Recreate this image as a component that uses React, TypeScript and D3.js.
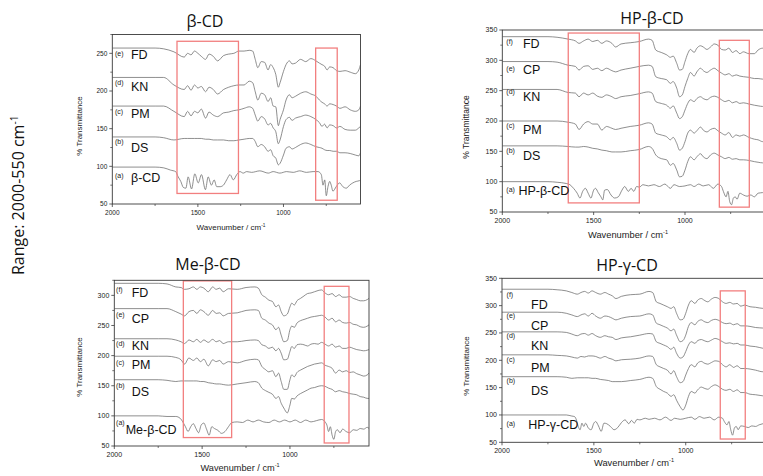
import React from "react";
import * as d3 from "d3";

// ---------------- DATA ----------------
// Panel β-CD
const WN_BCD = [2000,1750,1700,1640,1580,1560,1540,1520,1500,1480,1455,1435,1410,1385,1350,1320,1290,1260,1230,1200,1180,1165,1150,1130,1110,1090,1075,1060,1045,1030,1020,1000,985,965,950,930,900,870,840,810,790,775,760,745,730,710,690,670,640,610,580,560,550];
const BCD_FD = [257,257,256,252,245,250,248,253,250,246,242,249,246,240,247,249,250,253,253,254,253,242,231,239,238,228,235,231,222,205,211,226,235,240,236,237,242,239,243,240,237,235,233,228,232,231,227,226,227,225,223,228,235];
const BCD_KN = [218,218,218,208,202,207,201,208,204,206,199,205,202,196,202,205,207,208,208,213,211,199,188,197,195,186,191,180,179,154,162,175,188,195,191,193,197,199,196,193,188,185,183,180,183,182,180,177,179,175,173,175,180];
const BCD_PM = [180,180,180,173,166,173,167,173,171,176,164,172,168,166,171,172,174,175,177,179,177,168,160,166,163,155,157,151,146,130,135,153,162,165,161,164,166,168,166,162,158,153,156,151,155,154,151,153,149,148,148,151,153];
const BCD_DS = [139,139,138,135,137,137,137,137,137,137,136,136,135,135,135,134,134,135,136,137,137,133,126,129,126,120,122,114,111,102,104,115,124,126,123,125,129,131,129,126,125,124,122,121,121,120,120,118,118,117,115,114,118];
const BCD_PURE: [number, number][] = [[2000,99],[1750,99],[1700,98],[1660,95],[1630,93],[1615,86],[1600,80],[1585,72],[1570,71],[1557,86],[1537,70],[1518,90],[1498,78],[1479,89],[1456,69],[1440,86],[1421,75],[1405,82],[1390,73],[1370,73],[1351,75],[1332,82],[1312,89],[1293,82],[1273,89],[1254,93],[1235,91],[1215,93],[1186,92],[1138,94],[1089,91],[1060,93],[1021,91],[982,93],[943,92],[905,94],[866,92],[827,93],[798,93],[779,89],[769,75],[759,82],[750,61],[740,73],[730,80],[721,75],[711,67],[692,73],[672,78],[653,73],[633,71],[614,75],[595,78],[575,80],[556,81],[550,82]];

// Panel HP-β-CD
const WN_HPB = [2000,1750,1700,1640,1600,1580,1555,1530,1505,1480,1455,1430,1400,1380,1350,1300,1250,1200,1180,1160,1130,1100,1080,1065,1045,1030,1015,1000,985,970,950,935,915,900,880,860,840,820,800,780,760,740,720,700,680,650,620,600,575,550];
const HPB_FD = [339,339,338,335,332,328,332,335,331,333,328,332,328,322,327,329,331,335,333,317,313,309,305,307,295,284,285,298,311,318,313,320,324,322,318,322,327,325,318,317,320,313,316,311,314,311,311,317,320,320];
const HPB_CP = [298,298,297,292,290,284,290,291,285,287,283,287,283,281,284,287,290,292,290,273,270,268,262,265,254,240,243,257,270,280,274,281,287,283,280,284,287,283,279,276,278,274,276,274,273,272,270,270,269,269];
const HPB_KN = [252,252,252,247,246,240,246,243,246,241,239,243,240,237,240,242,245,248,246,232,229,226,221,225,213,204,207,218,229,235,232,237,240,237,235,239,241,239,235,232,234,230,232,229,230,228,226,225,224,224];
const HPB_PM = [200,200,200,198,195,186,195,199,195,195,185,191,188,186,188,191,193,197,195,180,177,174,169,173,163,152,155,166,180,185,180,184,190,185,182,186,188,184,180,177,181,173,177,175,177,173,170,169,166,166];
const HPB_DS = [159,159,159,158,157,157,158,157,155,154,152,151,149,149,149,151,153,158,155,144,138,136,127,130,119,108,109,119,133,141,136,141,146,141,138,144,147,144,141,138,140,137,138,136,136,135,133,132,131,131];
const HPB_PURE: [number, number][] = [[2000,100],[1750,100],[1700,99],[1650,97],[1630,95],[1610,89],[1590,81],[1575,73],[1560,84],[1545,89],[1530,81],[1515,73],[1500,86],[1490,89],[1475,82],[1460,75],[1450,70],[1440,86],[1425,87],[1405,78],[1385,73],[1365,75],[1345,86],[1330,92],[1310,84],[1295,89],[1280,84],[1265,92],[1250,91],[1230,95],[1200,93],[1170,95],[1140,92],[1110,96],[1080,89],[1060,95],[1030,92],[1000,93],[970,95],[950,92],[925,96],[900,93],[870,95],[845,89],[820,96],[800,92],[790,84],[775,75],[765,84],[755,67],[745,62],[735,73],[725,75],[715,71],[700,81],[680,78],[660,76],[640,78],[620,75],[600,81],[575,82],[550,84]];

// Panel Me-β-CD
const WN_MB = [2000,1750,1700,1650,1620,1600,1575,1550,1530,1510,1490,1465,1440,1420,1400,1380,1350,1300,1250,1200,1180,1160,1140,1120,1100,1080,1065,1050,1035,1015,1000,990,975,960,940,920,900,880,860,840,820,800,780,760,740,720,700,680,660,640,620,600,580,560,550];
const MB_FD = [320,320,319,314,313,310,311,314,310,314,312,306,314,310,312,306,311,310,313,314,312,301,297,292,290,281,284,273,266,269,281,287,284,291,295,299,303,304,306,308,309,304,301,303,298,301,297,297,298,295,293,291,291,293,295];
const MB_CP = [278,278,278,273,269,266,273,275,270,276,273,267,275,270,271,266,270,271,275,276,275,262,259,254,251,243,247,234,223,225,243,249,247,254,258,260,262,264,265,266,267,264,259,262,256,259,255,254,255,252,251,248,247,249,251];
const MB_KN = [228,228,228,226,223,220,226,223,227,222,226,222,227,223,225,220,223,223,225,226,225,218,216,212,214,208,212,204,193,194,207,215,212,218,219,218,216,219,220,219,222,219,216,219,214,216,212,212,214,212,210,209,208,209,210];
const MB_PM = [199,199,199,197,193,186,196,192,196,190,194,183,193,190,192,186,190,188,192,194,193,182,177,173,175,165,171,157,144,144,160,168,165,172,176,179,182,184,186,187,188,184,182,179,171,176,173,175,172,173,170,168,166,168,171];
const MB_DS = [160,160,159,157,158,158,158,158,158,157,157,155,154,153,153,152,151,153,155,157,155,146,142,139,136,129,132,121,113,105,118,129,128,133,137,140,143,146,147,149,150,149,146,144,140,142,140,139,137,136,135,132,131,129,129];
const MB_PURE: [number, number][] = [[2000,100],[1750,100],[1700,99],[1650,99],[1625,96],[1610,90],[1595,82],[1580,74],[1565,82],[1550,87],[1535,79],[1520,72],[1505,85],[1490,88],[1475,78],[1460,68],[1445,82],[1430,79],[1410,76],[1390,71],[1370,74],[1350,82],[1330,89],[1300,90],[1270,89],[1240,93],[1210,90],[1180,93],[1150,90],[1120,89],[1090,93],[1060,90],[1030,93],[1000,90],[970,93],[940,89],[910,93],[880,90],[850,92],[820,94],[800,90],[790,85],[780,74],[770,82],[760,68],[750,61],[740,74],[730,77],[715,72],[700,78],[680,74],[660,72],[640,77],[620,76],[600,79],[580,78],[560,81],[550,79]];

// Panel HP-γ-CD
const WN_HPG = [2000,1750,1700,1650,1620,1590,1570,1550,1530,1510,1490,1465,1440,1420,1400,1380,1350,1300,1250,1200,1180,1160,1140,1120,1100,1080,1065,1050,1030,1015,1000,985,970,950,935,915,900,880,860,840,820,800,780,760,740,720,700,680,650,620,580,550];
const HPG_FD = [330,330,329,327,324,321,324,326,323,327,324,321,324,321,318,313,317,320,321,326,324,307,304,301,298,295,298,286,274,275,286,301,309,304,310,313,310,307,312,315,313,307,304,306,303,304,299,301,298,297,295,295];
const HPG_CP = [288,288,288,286,283,280,283,285,281,286,281,277,281,280,277,274,277,280,281,285,283,268,265,262,259,254,257,246,234,236,246,262,269,265,271,274,271,269,273,275,273,269,267,268,265,267,263,263,262,260,259,258];
const HPG_KN = [252,252,252,251,248,245,248,249,246,249,245,242,245,243,242,238,241,243,246,249,248,234,231,228,225,220,224,213,204,206,216,228,234,231,236,238,236,234,237,240,238,234,231,232,230,231,228,228,226,225,222,221];
const HPG_PM = [210,210,209,208,206,204,207,206,208,208,207,204,207,204,202,199,201,202,204,208,207,192,188,185,182,175,181,170,159,161,173,185,192,188,195,198,195,193,196,199,198,192,188,192,187,190,185,185,184,182,179,179];
const HPG_DS = [170,170,170,169,167,168,168,168,168,167,167,165,164,163,161,161,161,163,165,169,167,152,147,143,140,134,137,127,115,109,118,134,143,140,146,151,149,147,152,155,152,147,145,147,143,146,141,141,138,137,135,134];
const HPG_PURE: [number, number][] = [[2000,100],[1750,100],[1700,100],[1650,100],[1620,98],[1605,97],[1595,91],[1585,79],[1575,73],[1565,85],[1555,79],[1545,85],[1530,76],[1515,73],[1500,85],[1490,88],[1475,80],[1460,70],[1445,85],[1430,84],[1410,79],[1390,73],[1370,77],[1350,86],[1330,91],[1310,84],[1295,90],[1280,85],[1265,92],[1250,91],[1220,94],[1200,92],[1170,94],[1140,91],[1110,96],[1080,90],[1060,94],[1030,92],[1000,94],[970,96],[950,92],[925,97],[900,94],[870,96],[845,91],[820,96],[800,94],[790,88],[775,82],[765,88],[755,73],[745,63],[735,76],[725,79],[715,73],[700,80],[680,79],[660,77],[640,80],[620,79],[600,82],[580,84],[550,85]];

// Labels: [letter, name, letter baseline value, name baseline value]
const BCD_LABELS: [string, string, number, number][] = [["(e)","FD",247,242.5],["(d)","KN",208,200],["(c)","PM",169.5,163.8],["(b)","DS",130.3,118.6],["(a)","β-CD",83.9,79.6]];
const HPB_LABELS: [string, string, number, number][] = [["(f)","FD",327.5,320.9],["(e)","CP",283,277.5],["(d)","KN",244.5,233.5],["(c)","PM",189,178.6],["(b)","DS",146.7,135.7],["(a)","HP-β-CD",82.4,78]];
const MB_LABELS: [string, string, number, number][] = [["(f)","FD",305,297.8],["(e)","CP",263.5,253.5],["(d)","KN",216,209.3],["(c)","PM",184.4,177.2],["(b)","DS",146.8,133],["(a)","Me-β-CD",85,69.4]];
const HPG_LABELS: [string, string, number, number][] = [["(f)","FD",316.3,293.3],["(e)","CP",276.8,255.4],["(d)","KN",240.3,218.9],["(c)","PM",197.5,179.2],["(b)","DS",157.9,136.5],["(a)","HP-γ-CD",80.4,74.3]];

// Highlight boxes [wnStart, wnEnd, yLow, yHigh]
const BCD_BOXES: [number, number, number, number][] = [[1622,1263,64,266],[812,686,55,257]];
const HPB_BOXES: [number, number, number, number][] = [[1639,1250,65,345],[812,648,58,333]];
const MB_BOXES: [number, number, number, number][] = [[1607,1332,64,324],[805,664,55,315]];
const HPG_BOXES: [number, number, number, number][] = [[812,676,56,327]];

const X_MAJOR = [2000, 1500, 1000];
const X_MINOR = [1750, 1250, 750];

const zip = (wn: number[], v: number[]): [number, number][] => wn.map((w, i) => [w, v[i]]);

type PanelCfg = {
  id: string;
  title: string;
  titleX: number; titleY: number;
  x0: number; x1: number; y0: number; y1: number;
  yMax: number;
  yTicks: number[];
  traces: [number, number][][];
  labels: [string, string, number, number][];
  letterWn: number; nameWn: number; pureNameWn: number;
  boxes: [number, number, number, number][];
  xLabelX: number; xLabelY: number; xLabelSize: number;
  yLabelX: number; yLabelY: number; yLabelSize: number;
  tickSize: number;
};

const PANELS: PanelCfg[] = [
  {
    id: "p1", title: "β-CD", titleX: 205, titleY: 27,
    x0: 112.3, x1: 360.5, y0: 34.5, y1: 204, yMax: 275,
    yTicks: [50, 100, 150, 200, 250],
    traces: [zip(WN_BCD, BCD_FD), zip(WN_BCD, BCD_KN), zip(WN_BCD, BCD_PM), zip(WN_BCD, BCD_DS), BCD_PURE],
    labels: BCD_LABELS, letterWn: 1984, nameWn: 1891, pureNameWn: 1891,
    boxes: BCD_BOXES,
    xLabelX: 231, xLabelY: 230, xLabelSize: 8,
    yLabelX: 82, yLabelY: 126, yLabelSize: 8, tickSize: 6.5,
  },
  {
    id: "p2", title: "HP-β-CD", titleX: 652, titleY: 24,
    x0: 502.3, x1: 767.2, y0: 30, y1: 212, yMax: 350,
    yTicks: [50, 100, 150, 200, 250, 300, 350],
    traces: [zip(WN_HPB, HPB_FD), zip(WN_HPB, HPB_CP), zip(WN_HPB, HPB_KN), zip(WN_HPB, HPB_PM), zip(WN_HPB, HPB_DS), HPB_PURE],
    labels: HPB_LABELS, letterWn: 1978, nameWn: 1887, pureNameWn: 1912,
    boxes: HPB_BOXES,
    xLabelX: 628, xLabelY: 238, xLabelSize: 9.3,
    yLabelX: 469, yLabelY: 127, yLabelSize: 8.5, tickSize: 7,
  },
  {
    id: "p3", title: "Me-β-CD", titleX: 208, titleY: 270,
    x0: 114.3, x1: 369, y0: 280.3, y1: 446, yMax: 325,
    yTicks: [50, 100, 150, 200, 250, 300],
    traces: [zip(WN_MB, MB_FD), zip(WN_MB, MB_CP), zip(WN_MB, MB_KN), zip(WN_MB, MB_PM), zip(WN_MB, MB_DS), MB_PURE],
    labels: MB_LABELS, letterWn: 1990, nameWn: 1901, pureNameWn: 1935,
    boxes: MB_BOXES,
    xLabelX: 240, xLabelY: 471, xLabelSize: 9.2,
    yLabelX: 82, yLabelY: 367, yLabelSize: 8, tickSize: 7,
  },
  {
    id: "p4", title: "HP-γ-CD", titleX: 627, titleY: 271,
    x0: 502, x1: 768.4, y0: 278.3, y1: 442.3, yMax: 350,
    yTicks: [50, 100, 150, 200, 250, 300, 350],
    traces: [zip(WN_HPG, HPG_FD), zip(WN_HPG, HPG_CP), zip(WN_HPG, HPG_KN), zip(WN_HPG, HPG_PM), zip(WN_HPG, HPG_DS), HPG_PURE],
    labels: HPG_LABELS, letterWn: 1975, nameWn: 1842, pureNameWn: 1857,
    boxes: HPG_BOXES,
    xLabelX: 634, xLabelY: 466, xLabelSize: 9.3,
    yLabelX: 469, yLabelY: 366, yLabelSize: 8, tickSize: 7,
  },
];

const AXIS = "#3a3a3a";
const LINE = "#6a6a6a";
const RED = "#f27f7f";
const SANS = "'Liberation Sans', Arial, sans-serif";
const TITLE_FONT = "'Open Sans', 'Noto Sans', sans-serif";

function Panel({ cfg }: { cfg: PanelCfg }) {
  const x = d3.scaleLinear().domain([2000, 550]).range([cfg.x0, cfg.x1]);
  const y = d3.scaleLinear().domain([50, cfg.yMax]).range([cfg.y1, cfg.y0]);
  const line = d3
    .line<[number, number]>()
    .x((d) => x(d[0]))
    .y((d) => y(d[1]))
    .curve(d3.curveMonotoneX);
  const yMinor: number[] = [];
  for (let i = 0; i < cfg.yTicks.length - 1; i++) yMinor.push((cfg.yTicks[i] + cfg.yTicks[i + 1]) / 2);
  if (cfg.yMax - cfg.yTicks[cfg.yTicks.length - 1] >= 25) yMinor.push(cfg.yTicks[cfg.yTicks.length - 1] + 25);
  const clipId = `clip-${cfg.id}`;
  return (
    <g>
      <defs>
        <clipPath id={clipId}>
          <rect x={cfg.x0} y={cfg.y0} width={cfg.x1 - cfg.x0} height={cfg.y1 - cfg.y0} />
        </clipPath>
      </defs>
      <text x={cfg.titleX} y={cfg.titleY} textAnchor="middle" fontFamily={TITLE_FONT} fontSize={16} fill="#111">
        {cfg.title}
      </text>
      <g clipPath={`url(#${clipId})`}>
        {cfg.traces.map((t, i) => (
          <path key={i} d={line(t) || ""} fill="none" stroke={LINE} strokeWidth={0.75} />
        ))}
      </g>
      {cfg.boxes.map((b, i) => (
        <rect
          key={i}
          x={x(b[0])}
          y={y(b[3])}
          width={x(b[1]) - x(b[0])}
          height={y(b[2]) - y(b[3])}
          fill="none"
          stroke={RED}
          strokeWidth={1.3}
        />
      ))}
      <rect x={cfg.x0} y={cfg.y0} width={cfg.x1 - cfg.x0} height={cfg.y1 - cfg.y0} fill="none" stroke={AXIS} strokeWidth={0.9} />
      {cfg.yTicks.map((t) => (
        <g key={`yt${t}`}>
          <line x1={cfg.x0 - 3} x2={cfg.x0} y1={y(t)} y2={y(t)} stroke={AXIS} strokeWidth={0.8} />
          <text x={cfg.x0 - 5} y={y(t)} dy="0.35em" textAnchor="end" fontFamily={SANS} fontSize={cfg.tickSize} fill="#222">
            {t}
          </text>
        </g>
      ))}
      {yMinor.map((t) => (
        <line key={`ym${t}`} x1={cfg.x0 - 2} x2={cfg.x0} y1={y(t)} y2={y(t)} stroke={AXIS} strokeWidth={0.7} />
      ))}
      {X_MAJOR.map((t) => (
        <g key={`xt${t}`}>
          <line x1={x(t)} x2={x(t)} y1={cfg.y1} y2={cfg.y1 + 3} stroke={AXIS} strokeWidth={0.8} />
          <text x={x(t)} y={cfg.y1 + 10.5} textAnchor="middle" fontFamily={SANS} fontSize={cfg.tickSize} fill="#222">
            {t}
          </text>
        </g>
      ))}
      {X_MINOR.map((t) => (
        <line key={`xm${t}`} x1={x(t)} x2={x(t)} y1={cfg.y1} y2={cfg.y1 + 2} stroke={AXIS} strokeWidth={0.7} />
      ))}
      <text x={cfg.xLabelX} y={cfg.xLabelY} textAnchor="middle" fontFamily={SANS} fontSize={cfg.xLabelSize} fill="#222">
        Wavenumber / cm
        <tspan dy={-cfg.xLabelSize * 0.4} fontSize={cfg.xLabelSize * 0.6}>-1</tspan>
      </text>
      <text
        transform={`translate(${cfg.yLabelX},${cfg.yLabelY}) rotate(-90)`}
        textAnchor="middle"
        fontFamily={SANS}
        fontSize={cfg.yLabelSize}
        fill="#222"
      >
        % Transmittance
      </text>
      {cfg.labels.map((l, i) => {
        const isPure = i === cfg.labels.length - 1;
        return (
          <g key={`lb${i}`}>
            <text x={x(cfg.letterWn)} y={y(l[2])} fontFamily={SANS} fontSize={7} fill="#222">
              {l[0]}
            </text>
            <text x={x(isPure ? cfg.pureNameWn : cfg.nameWn)} y={y(l[3])} fontFamily={SANS} fontSize={12.5} fill="#111">
              {l[1]}
            </text>
          </g>
        );
      })}
    </g>
  );
}

export default function App() {
  return (
    <svg
      width={763}
      height={476}
      viewBox="0 0 763 476"
      style={{ position: "absolute", left: 0, top: 0, background: "#fff" }}
    >
      <rect x={0} y={0} width={763} height={476} fill="#fff" />
      <text transform="translate(24,275) rotate(-90)" fontFamily={TITLE_FONT} fontSize={16} fill="#111">
        Range: 2000-550 cm
        <tspan dy={-6} fontSize={10}>-1</tspan>
      </text>
      {PANELS.map((p) => (
        <Panel key={p.id} cfg={p} />
      ))}
    </svg>
  );
}
